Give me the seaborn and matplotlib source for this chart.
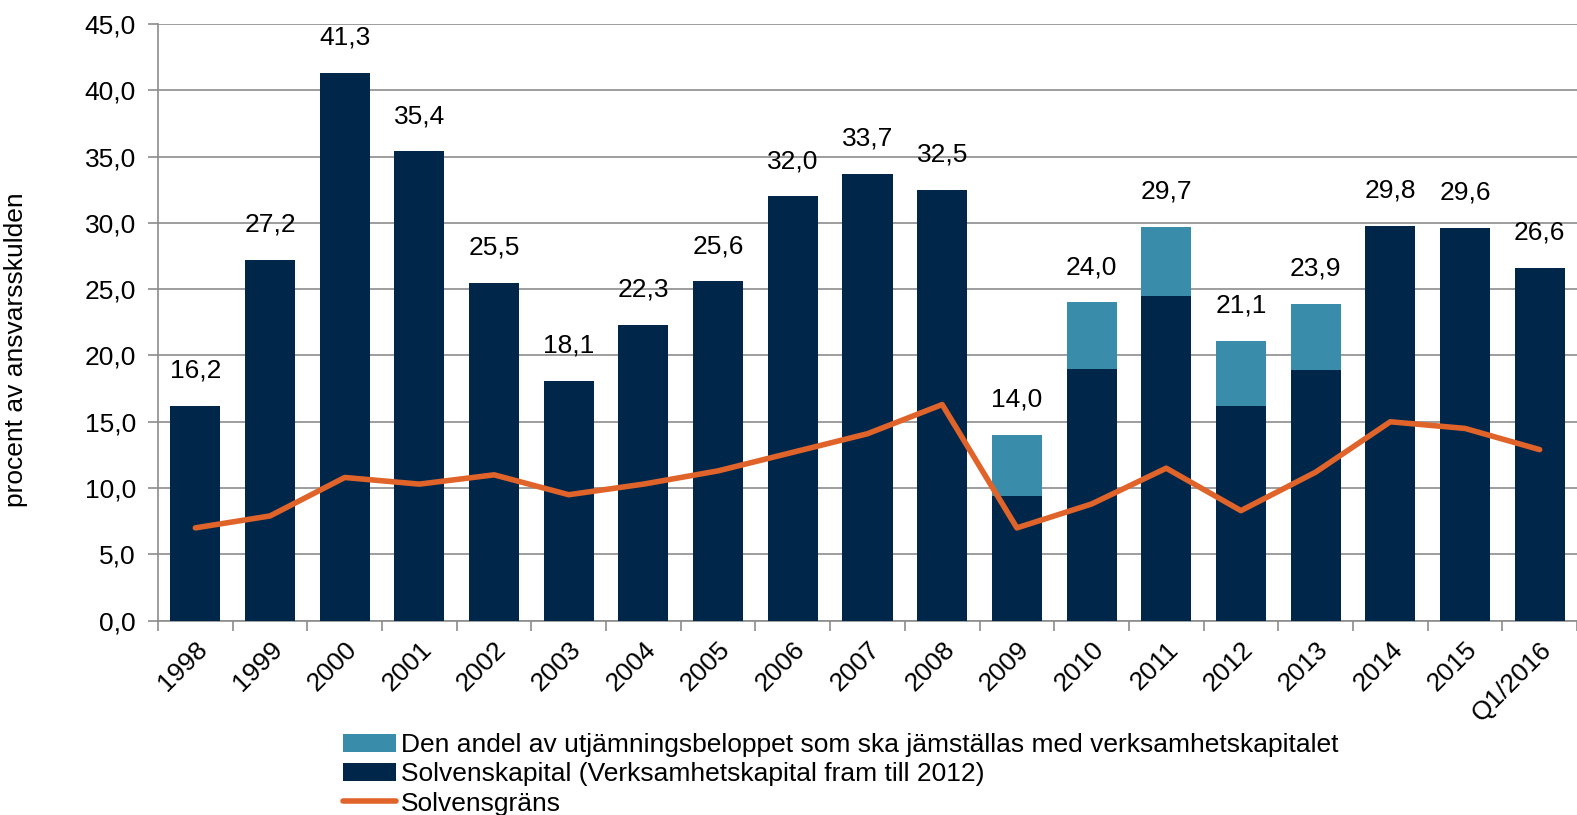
import numpy as np
import matplotlib
matplotlib.use("Agg")
import matplotlib.pyplot as plt
import seaborn as sns
from matplotlib.patches import Patch
from matplotlib.lines import Line2D

# Data
years = ["1998", "1999", "2000", "2001", "2002", "2003", "2004", "2005", "2006", "2007",
         "2008", "2009", "2010", "2011", "2012", "2013", "2014", "2015", "Q1/2016"]
totals = [16.2, 27.2, 41.3, 35.4, 25.5, 18.1, 22.3, 25.6, 32.0, 33.7,
          32.5, 14.0, 24.0, 29.7, 21.1, 23.9, 29.8, 29.6, 26.6]
solvenskapital = [16.2, 27.2, 41.3, 35.4, 25.5, 18.1, 22.3, 25.6, 32.0, 33.7,
                  32.5, 9.4, 19.0, 24.5, 16.2, 18.9, 29.8, 29.6, 26.6]
solvensgrans = [7.0, 7.9, 10.8, 10.3, 11.0, 9.5, 10.3, 11.3, 12.7, 14.1,
                16.3, 7.0, 8.8, 11.5, 8.3, 11.2, 15.0, 14.5, 12.9]

lbl_andel = "Den andel av utjämningsbeloppet som ska jämställas med verksamhetskapitalet"
lbl_kap = "Solvenskapital (Verksamhetskapital fram till 2012)"
lbl_grans = "Solvensgräns"

teal = "#3A8DAA"
navy = "#00264A"
orange = "#E0632A"
grid_c = "#8C8C8C"

sns.set_theme(style="white")
plt.rcParams["font.family"] = ["Liberation Sans", "DejaVu Sans"]
plt.rcParams["text.color"] = "black"
plt.rcParams["xtick.color"] = "black"
plt.rcParams["ytick.color"] = "black"
plt.rcParams["axes.labelcolor"] = "black"

fig = plt.figure(figsize=(15.77, 8.15), dpi=100)
ax = fig.add_axes([0.1002, 0.2384, 0.8998, 0.7322])

# totals in teal, solvenskapital drawn over them -> stacked look
sns.barplot(x=years, y=totals, color=teal, saturation=1, width=0.67,
            linewidth=0, ax=ax, zorder=2)
sns.barplot(x=years, y=solvenskapital, color=navy, saturation=1, width=0.67,
            linewidth=0, ax=ax, zorder=3)
sns.lineplot(x=np.arange(len(years)), y=solvensgrans, color=orange, linewidth=4,
             ax=ax, zorder=4)

for i, v in enumerate(totals):
    ax.text(i, v + 1.75, f"{v:.1f}".replace(".", ","), ha="center", va="bottom",
            fontsize=19)

ax.set_ylim(0, 45)
ax.set_xlim(-0.5, len(years) - 0.5)
ax.set_yticks(np.arange(0, 46, 5))
ax.set_yticklabels([f"{t:.1f}".replace(".", ",") for t in np.arange(0, 46, 5)], fontsize=19)
ax.yaxis.grid(True, color=grid_c, linewidth=1.2)
ax.set_axisbelow(True)

ax.set_xticks(np.arange(len(years)))
ax.set_xticklabels(years, rotation=45, ha="right", rotation_mode="anchor", fontsize=19)
ax.set_xticks(np.arange(len(years) + 1) - 0.5, minor=True)
ax.tick_params(axis="x", which="major", length=0, pad=12)
ax.tick_params(axis="x", which="minor", length=7, width=1.2, color=grid_c, bottom=True)
ax.tick_params(axis="y", length=7, width=1.2, color=grid_c, left=True, pad=9)

for s in ["top", "right"]:
    ax.spines[s].set_visible(False)
for s in ["left", "bottom"]:
    ax.spines[s].set_color(grid_c)
    ax.spines[s].set_linewidth(1.2)

ax.set_ylabel("procent av ansvarsskulden", fontsize=19)
ax.yaxis.set_label_coords(-0.0916, 0.454)
ax.set_xlabel("")

handles = [Patch(facecolor=teal, edgecolor="none"),
           Patch(facecolor=navy, edgecolor="none"),
           Line2D([0], [0], color=orange, linewidth=4)]
fig.legend(handles, [lbl_andel, lbl_kap, lbl_grans], loc="upper left",
           bbox_to_anchor=(0.2175, 0.1005), bbox_transform=fig.transFigure,
           frameon=False, fontsize=19, handlelength=2.0, handletextpad=0.2,
           labelspacing=0.2, borderpad=0, borderaxespad=0)

fig.savefig("out.png", dpi=100)
